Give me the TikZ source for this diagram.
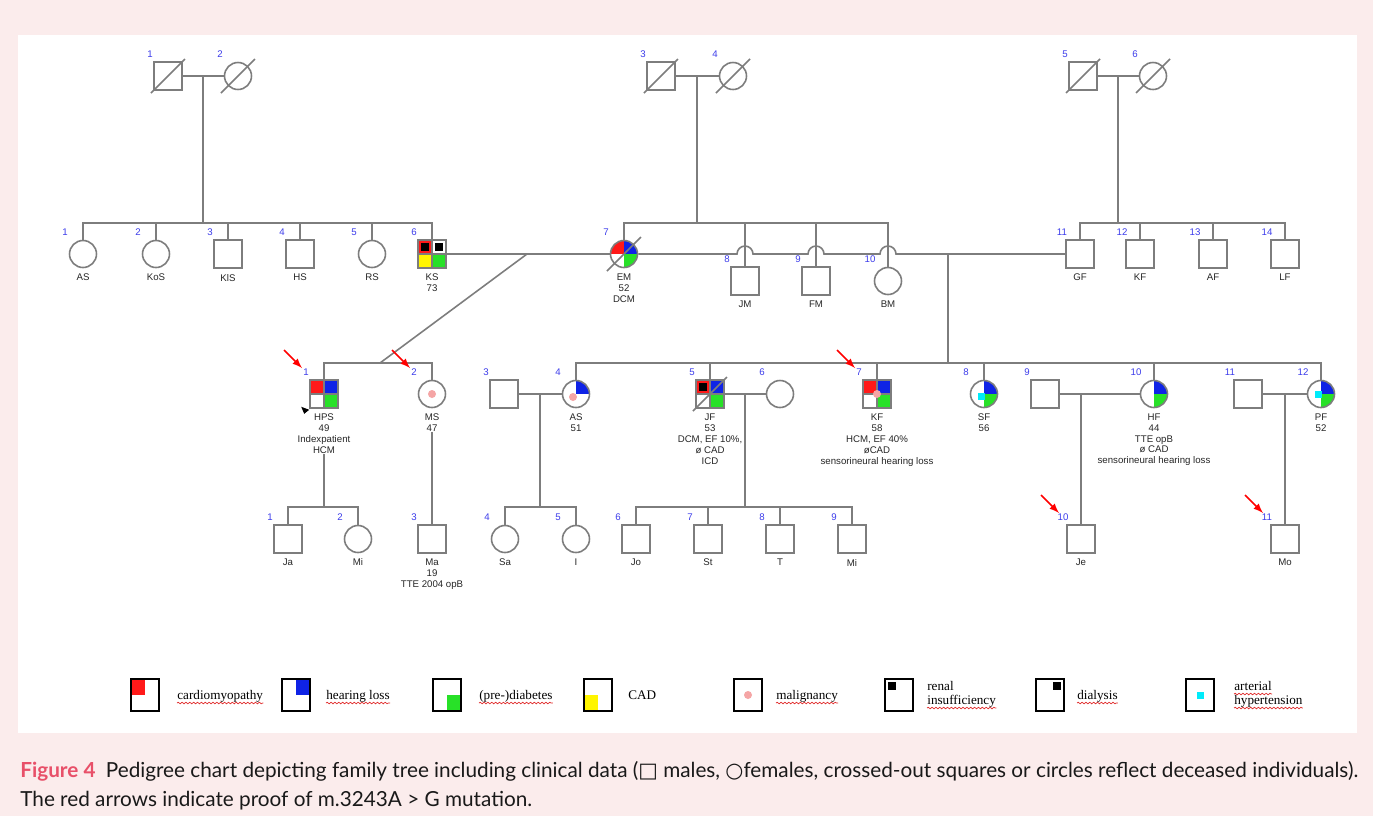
\documentclass[tikz,border=0pt]{standalone}
\usepackage{fontspec}
\setmainfont{Liberation Serif}
\setsansfont{Liberation Sans}
\newfontfamily\capfont{Lato}
\newfontfamily\symfont{DejaVu Sans}
\usetikzlibrary{calc,decorations.pathmorphing}

\definecolor{pinkbg}{RGB}{251,236,236}
\definecolor{lingray}{RGB}{125,125,125}
\definecolor{numblue}{RGB}{60,60,235}
\definecolor{cmred}{RGB}{255,25,25}
\definecolor{hlblue}{RGB}{15,35,230}
\definecolor{dmgreen}{RGB}{40,225,40}
\definecolor{cadyellow}{RGB}{255,245,0}
\definecolor{malpink}{RGB}{245,165,165}
\definecolor{htcyan}{RGB}{0,235,250}
\definecolor{figred}{RGB}{232,80,105}
\definecolor{squigred}{RGB}{225,45,45}

\tikzset{
  pline/.style={lingray,line width=0.9pt},
  male/.style={pline,draw,rectangle,minimum size=0.56cm,inner sep=0pt,fill=white},
  female/.style={pline,draw,circle,minimum size=0.54cm,inner sep=0pt,fill=white},
  nr/.style={numblue,font=\sffamily\fontsize{5.5}{6}\selectfont,inner sep=0pt},
  txt/.style={black!85,font=\sffamily\fontsize{5.5}{6.2}\selectfont,align=center,inner sep=0pt},
  mut/.style={-latex,red,line width=0.9pt},
  legbox/.style={draw=black,line width=0.9pt,rectangle,minimum width=0.56cm,minimum height=0.64cm,inner sep=0pt},
  legtxt/.style={font=\rmfamily\fontsize{7.5}{8}\selectfont,anchor=base west,inner sep=0pt},
  squig/.style={squigred,line width=0.4pt,decorate,decoration={snake,amplitude=0.45pt,segment length=2.2pt}},
  captxt/.style={font=\capfont\fontsize{11.8}{13}\selectfont,anchor=base west,inner sep=0pt,text=black!90}
}

% quadrant and mark fills, used inside path picture
\newcommand{\qfill}[2]{\fill[#2] (path picture bounding box.center) rectangle (path picture bounding box.#1);}
\newcommand{\qcross}{\draw[pline] (path picture bounding box.north) -- (path picture bounding box.south) (path picture bounding box.west) -- (path picture bounding box.east);}
\newcommand{\mdot}[1]{\fill[malpink] ($(path picture bounding box.center)+(#1)$) circle (0.08cm);}
\newcommand{\htsq}[1]{\fill[htcyan] ($(path picture bounding box.center)+(#1)$) +(-3.5,-3.5) rectangle +(3.5,3.5);}
\newcommand{\renal}{\fill[black] ($(path picture bounding box.north west)+(3,3)$) rectangle +(8,8);}
\newcommand{\dialys}{\fill[black] ($(path picture bounding box.north east)+(-11,3)$) rectangle +(8,8);}
% one person: symbol, number, text below
\newcommand{\indiv}[5][]{%
  \node[#1] (#2) at (#3) {};
  \node[nr] (#2-nr) at ($(#2)+(-18,-22)$) {#4};
  \if\relax\detokenize{#5}\relax\else
    \node[txt,anchor=north] (#2-tx) at ($(#2.south)+(0,5)$) {#5};
  \fi}
\newcommand{\deadline}[1]{\draw[pline] ($(#1)+(-17,17)$) -- ($(#1)+(17,-17)$);}

\begin{document}
\begin{tikzpicture}[x=0.02cm,y=-0.02cm]
\fill[pinkbg] (0,0) rectangle (1373,816);
\fill[white] (18,35) rectangle (1357,733);
\coordinate (g2bar) at (0,223);
\coordinate (g3bar) at (0,363);
\coordinate (g4bar) at (0,507);

% generation I
\indiv[male]{p1}{168,76}{1}{}
\indiv[female]{p2}{238,76}{2}{}
\indiv[male]{p3}{661,76}{3}{}
\indiv[female]{p4}{733,76}{4}{}
\indiv[male]{p5}{1083,76}{5}{}
\indiv[female]{p6}{1153,76}{6}{}
\foreach \n in {p1,p2,p3,p4,p5,p6} {\deadline{\n}}
\draw[pline] (p1) -- (p2) (p3) -- (p4) (p5) -- (p6);
\coordinate (c12) at ($(p1)!.5!(p2)$);
\coordinate (c34) at ($(p3)!.5!(p4)$);
\coordinate (c56) at ($(p5)!.5!(p6)$);
\draw[pline] (c12) -- (c12|-g2bar) (c34) -- (c34|-g2bar) (c56) -- (c56|-g2bar);

% generation II
\indiv[female]{as}{83,254}{1}{AS}
\indiv[female]{kos}{156,254}{2}{KoS}
\indiv[male]{kls}{228,254}{3}{KlS}
\indiv[male]{hs}{300,254}{4}{HS}
\indiv[female]{rs}{372,254}{5}{RS}
\indiv[male,path picture={\qfill{north west}{cmred}\qfill{south west}{cadyellow}\qfill{south east}{dmgreen}\qcross\renal\dialys}]{ks}{432,254}{6}{KS\\73}
\indiv[female,path picture={\qfill{north west}{cmred}\qfill{north east}{hlblue}\qfill{south east}{dmgreen}}]{em}{624,254}{7}{EM\\52\\DCM}
\deadline{em}
\indiv[male]{jm}{745,281}{8}{JM}
\indiv[male]{fm}{816,281}{9}{FM}
\indiv[female]{bm}{888,281}{10}{BM}
\indiv[male]{gf}{1080,254}{11}{GF}
\indiv[male]{kf}{1140,254}{12}{KF}
\indiv[male]{af}{1213,254}{13}{AF}
\indiv[male]{lf}{1285,254}{14}{LF}

\draw[pline] (as.north) -- (as|-g2bar) -- (ks|-g2bar) -- (ks.north);
\foreach \n in {kos,kls,hs,rs} {\draw[pline] (\n.north) -- (\n|-g2bar);}
\draw[pline] (em.north) -- (em|-g2bar) -- (bm|-g2bar) -- (bm.north);
\foreach \n in {jm,fm} {\draw[pline] (\n.north) -- (\n|-g2bar);}
\draw[pline] (gf.north) -- (gf|-g2bar) -- (lf|-g2bar) -- (lf.north);
\foreach \n in {kf,af} {\draw[pline] (\n.north) -- (\n|-g2bar);}

% partner lines with hops
\draw[pline] (ks) -- (em);
\draw[pline] (em.east) -- ($(jm|-em)+(-8,0)$) arc[start angle=180,end angle=0,radius=0.16cm]
  -- ($(fm|-em)+(-8,0)$) arc[start angle=180,end angle=0,radius=0.16cm]
  -- ($(bm|-em)+(-8,0)$) arc[start angle=180,end angle=0,radius=0.16cm] -- (gf.west);
\coordinate (d1) at (527,254);
\coordinate (d2) at (380,363);
\coordinate (c7) at (948,254);
\draw[pline] (d1) -- (d2);
\draw[pline] (c7) -- (c7|-g3bar);

% generation III
\indiv[male,path picture={\qfill{north west}{cmred}\qfill{north east}{hlblue}\qfill{south east}{dmgreen}\qcross}]{hps}{324,394}{1}{HPS\\49\\Indexpatient\\HCM}
\indiv[female,path picture={\mdot{0,0}}]{ms}{432,394}{2}{MS\\47}
\indiv[male]{m3}{504,394}{3}{}
\indiv[female,path picture={\qfill{north east}{hlblue}\mdot{-3,3}}]{as3}{576,394}{4}{AS\\51}
\indiv[male,path picture={\qfill{north west}{cmred}\qfill{north east}{hlblue}\qfill{south east}{dmgreen}\qcross\renal}]{jf}{710,394}{5}{JF\\53\\DCM, EF 10\%,\\ø CAD\\ICD}
\deadline{jf}
\indiv[female]{w6}{780,394}{6}{}
\indiv[male,path picture={\qfill{north west}{cmred}\qfill{north east}{hlblue}\qfill{south east}{dmgreen}\qcross\mdot{0,0}}]{kf3}{877,394}{7}{KF\\58\\HCM, EF 40\%\\øCAD\\sensorineural hearing loss}
\indiv[female,path picture={\qfill{north east}{hlblue}\qfill{south east}{dmgreen}\htsq{-3,2}}]{sf}{984,394}{8}{SF\\56}
\indiv[male]{m9}{1045,394}{9}{}
\indiv[female,path picture={\qfill{north east}{hlblue}\qfill{south east}{dmgreen}}]{hf}{1154,394}{10}{HF\\44\\TTE opB\\ø CAD\\sensorineural hearing loss}
\indiv[male]{m11}{1248,394}{11}{}
\indiv[female,path picture={\qfill{north east}{hlblue}\qfill{south east}{dmgreen}\htsq{-3,0}}]{pf}{1321,394}{12}{PF\\52}
\fill[black] ($(hps.south west)+(-8,-2)$) -- ($(hps.south west)+(0,1)$) -- ($(hps.south west)+(-5,5)$) -- cycle;

\draw[pline] (hps.north) -- (hps|-g3bar) -- (ms|-g3bar) -- (ms.north);
\draw[pline] (as3.north) -- (as3|-g3bar) -- (pf|-g3bar) -- (pf.north);
\foreach \n in {jf,kf3,sf,hf} {\draw[pline] (\n.north) -- (\n|-g3bar);}
\draw[pline] (m3) -- (as3) (jf) -- (w6) (m9) -- (hf) (m11) -- (pf);

% generation IV
\indiv[male]{ja}{288,539}{1}{Ja}
\indiv[female]{mi1}{358,539}{2}{Mi}
\indiv[male]{ma}{432,539}{3}{Ma\\19\\TTE 2004 opB}
\indiv[female]{sa}{505,539}{4}{Sa}
\indiv[female]{ii}{576,539}{5}{I}
\indiv[male]{jo}{636,539}{6}{Jo}
\indiv[male]{st}{708,539}{7}{St}
\indiv[male]{tt}{780,539}{8}{T}
\indiv[male]{mi2}{852,539}{9}{Mi}
\indiv[male]{je}{1081,539}{10}{Je}
\indiv[male]{mo}{1285,539}{11}{Mo}

\coordinate (c34b) at ($(m3)!.5!(as3)$);
\coordinate (c56b) at ($(jf)!.5!(w6)$);
\draw[pline] (hps-tx.south) -- (hps|-g4bar);
\draw[pline] (ja.north) -- (ja|-g4bar) -- (mi1|-g4bar) -- (mi1.north);
\draw[pline] (ms-tx.south) -- (ma.north);
\draw[pline] (c34b) -- (c34b|-g4bar);
\draw[pline] (sa.north) -- (sa|-g4bar) -- (ii|-g4bar) -- (ii.north);
\draw[pline] (c56b) -- (c56b|-g4bar);
\draw[pline] (jo.north) -- (jo|-g4bar) -- (mi2|-g4bar) -- (mi2.north);
\foreach \n in {st,tt} {\draw[pline] (\n.north) -- (\n|-g4bar);}
\draw[pline] (je|-m9) -- (je.north);
\draw[pline] (mo|-m11) -- (mo.north);

% m.3243A>G carriers
\foreach \n in {hps,ms,kf3,je,mo} {\draw[mut] ($(\n-nr)+(-22,-22)$) -- ($(\n-nr)+(-4,-4)$);}

% legend
\node[legbox,path picture={\qfill{north west}{cmred}}] (lg1) at (145,695) {};
\node[legbox,path picture={\qfill{north east}{hlblue}}] (lg2) at (296,695) {};
\node[legbox,path picture={\qfill{south east}{dmgreen}}] (lg3) at (447,695) {};
\node[legbox,path picture={\qfill{south west}{cadyellow}}] (lg4) at (598,695) {};
\node[legbox,path picture={\mdot{0,0}}] (lg5) at (748,695) {};
\node[legbox,path picture={\renal}] (lg6) at (899,695) {};
\node[legbox,path picture={\dialys}] (lg7) at (1050,695) {};
\node[legbox,path picture={\htsq{0,0}}] (lg8) at (1200,695) {};
\node[legtxt] (lt1) at (177,699) {cardiomyopathy};
\node[legtxt] (lt2) at (326,699) {hearing loss};
\node[legtxt] (lt3) at (479,699) {(pre-)diabetes};
\node[legtxt] (lt4) at (628,699) {CAD};
\node[legtxt] (lt5) at (776,699) {malignancy};
\node[legtxt] (lt6a) at (927,690) {renal};
\node[legtxt] (lt6b) at (927,704) {insufficiency};
\node[legtxt] (lt7) at (1077,699) {dialysis};
\node[legtxt] (lt8a) at (1234,690) {arterial};
\node[legtxt] (lt8b) at (1234,704) {hypertension};
\foreach \n in {lt1,lt2,lt3,lt5,lt6b,lt7,lt8a,lt8b} {\draw[squig] ($(\n.base west)+(0,4)$) -- ($(\n.base east)+(0,4)$);}

% caption
\node[captxt] (cap1) at (20,777) {{\bfseries\color{figred}Figure 4}\enspace Pedigree chart depicting family tree including clinical data ({\symfont □} males, {\symfont ○}females, crossed-out squares or circles reflect deceased individuals).};
\node[captxt] (cap2) at (20,806) {The red arrows indicate proof of m.3243A > G mutation.};
\end{tikzpicture}
\end{document}
